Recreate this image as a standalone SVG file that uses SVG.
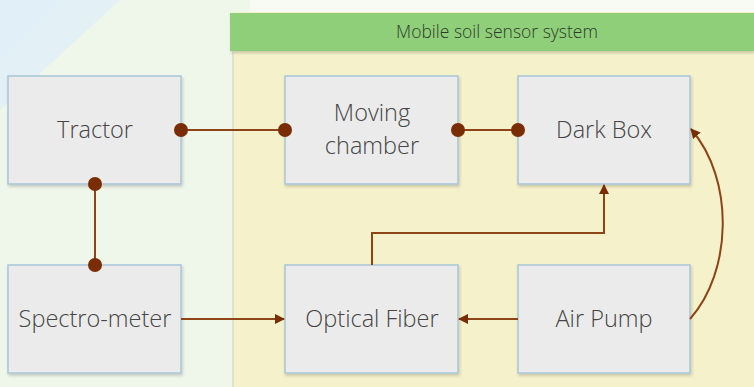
<svg xmlns="http://www.w3.org/2000/svg" width="754" height="387" viewBox="0 0 754 387">
<defs>
<style>
.box{fill:#ebebeb;stroke:#a8c6d8;stroke-width:1.5}
.lbl{font-family:"Open Sans","Liberation Sans",sans-serif;font-weight:300;font-size:23.5px;fill:#454545;text-anchor:middle}
.hdr{font-family:"Open Sans","Liberation Sans",sans-serif;font-weight:300;font-size:17.5px;fill:#2f3a2a;text-anchor:middle}
.ln{fill:none;stroke:#8e4416;stroke-width:2}
.dot{fill:#7a2d04}
</style>
<marker id="ah" viewBox="0 0 10 10" refX="9" refY="5" markerWidth="5" markerHeight="5" orient="auto" markerUnits="strokeWidth">
<path d="M0,0 L10,5 L0,10 z" fill="#7a2d04"/>
</marker>
<filter id="sh" x="-5%" y="-5%" width="115%" height="115%">
<feDropShadow dx="1" dy="2" stdDeviation="1.5" flood-color="#000" flood-opacity="0.18"/>
</filter>
</defs>
<rect width="754" height="387" fill="#eff6ea"/>
<polygon points="0,0 120,0 0,110" fill="#e3f0f6"/>
<polygon points="0,0 60,0 0,60" fill="#e0eff8"/>
<rect x="250" y="0" width="504" height="12" fill="#f8fbf4"/>
<rect x="233" y="12" width="521" height="375" fill="#f5f1cb"/>
<line x1="233" y1="52" x2="233" y2="387" stroke="#d9dcc6" stroke-width="1.5"/>
<g id="header">
<rect x="230" y="13" width="524" height="38" fill="#8fcf7a" filter="url(#sh)"/>
<text class="hdr" x="497" y="38">Mobile soil sensor system</text>
</g>
<g id="tractor">
<rect class="box" x="8" y="76" width="173" height="108" filter="url(#sh)"/>
<text class="lbl" x="95" y="138">Tractor</text>
</g>
<g id="moving-chamber">
<rect class="box" x="285" y="76" width="173" height="108" filter="url(#sh)"/>
<text class="lbl" x="372" y="121">Moving</text>
<text class="lbl" x="372" y="154">chamber</text>
</g>
<g id="dark-box">
<rect class="box" x="518" y="76" width="172" height="108" filter="url(#sh)"/>
<text class="lbl" x="604" y="138">Dark Box</text>
</g>
<g id="spectro-meter">
<rect class="box" x="8" y="265" width="173" height="108" filter="url(#sh)"/>
<text class="lbl" x="95" y="327">Spectro-meter</text>
</g>
<g id="optical-fiber">
<rect class="box" x="285" y="265" width="173" height="108" filter="url(#sh)"/>
<text class="lbl" x="372" y="327">Optical Fiber</text>
</g>
<g id="air-pump">
<rect class="box" x="518" y="265" width="172" height="108" filter="url(#sh)"/>
<text class="lbl" x="604" y="327">Air Pump</text>
</g>
<g id="connectors">
<line class="ln" x1="181" y1="130" x2="285" y2="130"/>
<line class="ln" x1="458" y1="130" x2="518" y2="130"/>
<line class="ln" x1="95" y1="184" x2="95" y2="265"/>
<line class="ln" x1="181" y1="319" x2="284" y2="319" marker-end="url(#ah)"/>
<line class="ln" x1="518" y1="319" x2="459" y2="319" marker-end="url(#ah)"/>
<polyline class="ln" points="372,265 372,233 604,233 604,185" marker-end="url(#ah)"/>
<path class="ln" d="M690,319 C732,272 735,180 691,129" marker-end="url(#ah)"/>
<circle class="dot" cx="181" cy="130" r="7"/>
<circle class="dot" cx="285" cy="130" r="7"/>
<circle class="dot" cx="458" cy="130" r="7"/>
<circle class="dot" cx="518" cy="130" r="7"/>
<circle class="dot" cx="95" cy="184" r="7"/>
<circle class="dot" cx="95" cy="265" r="7"/>
</g>
</svg>
